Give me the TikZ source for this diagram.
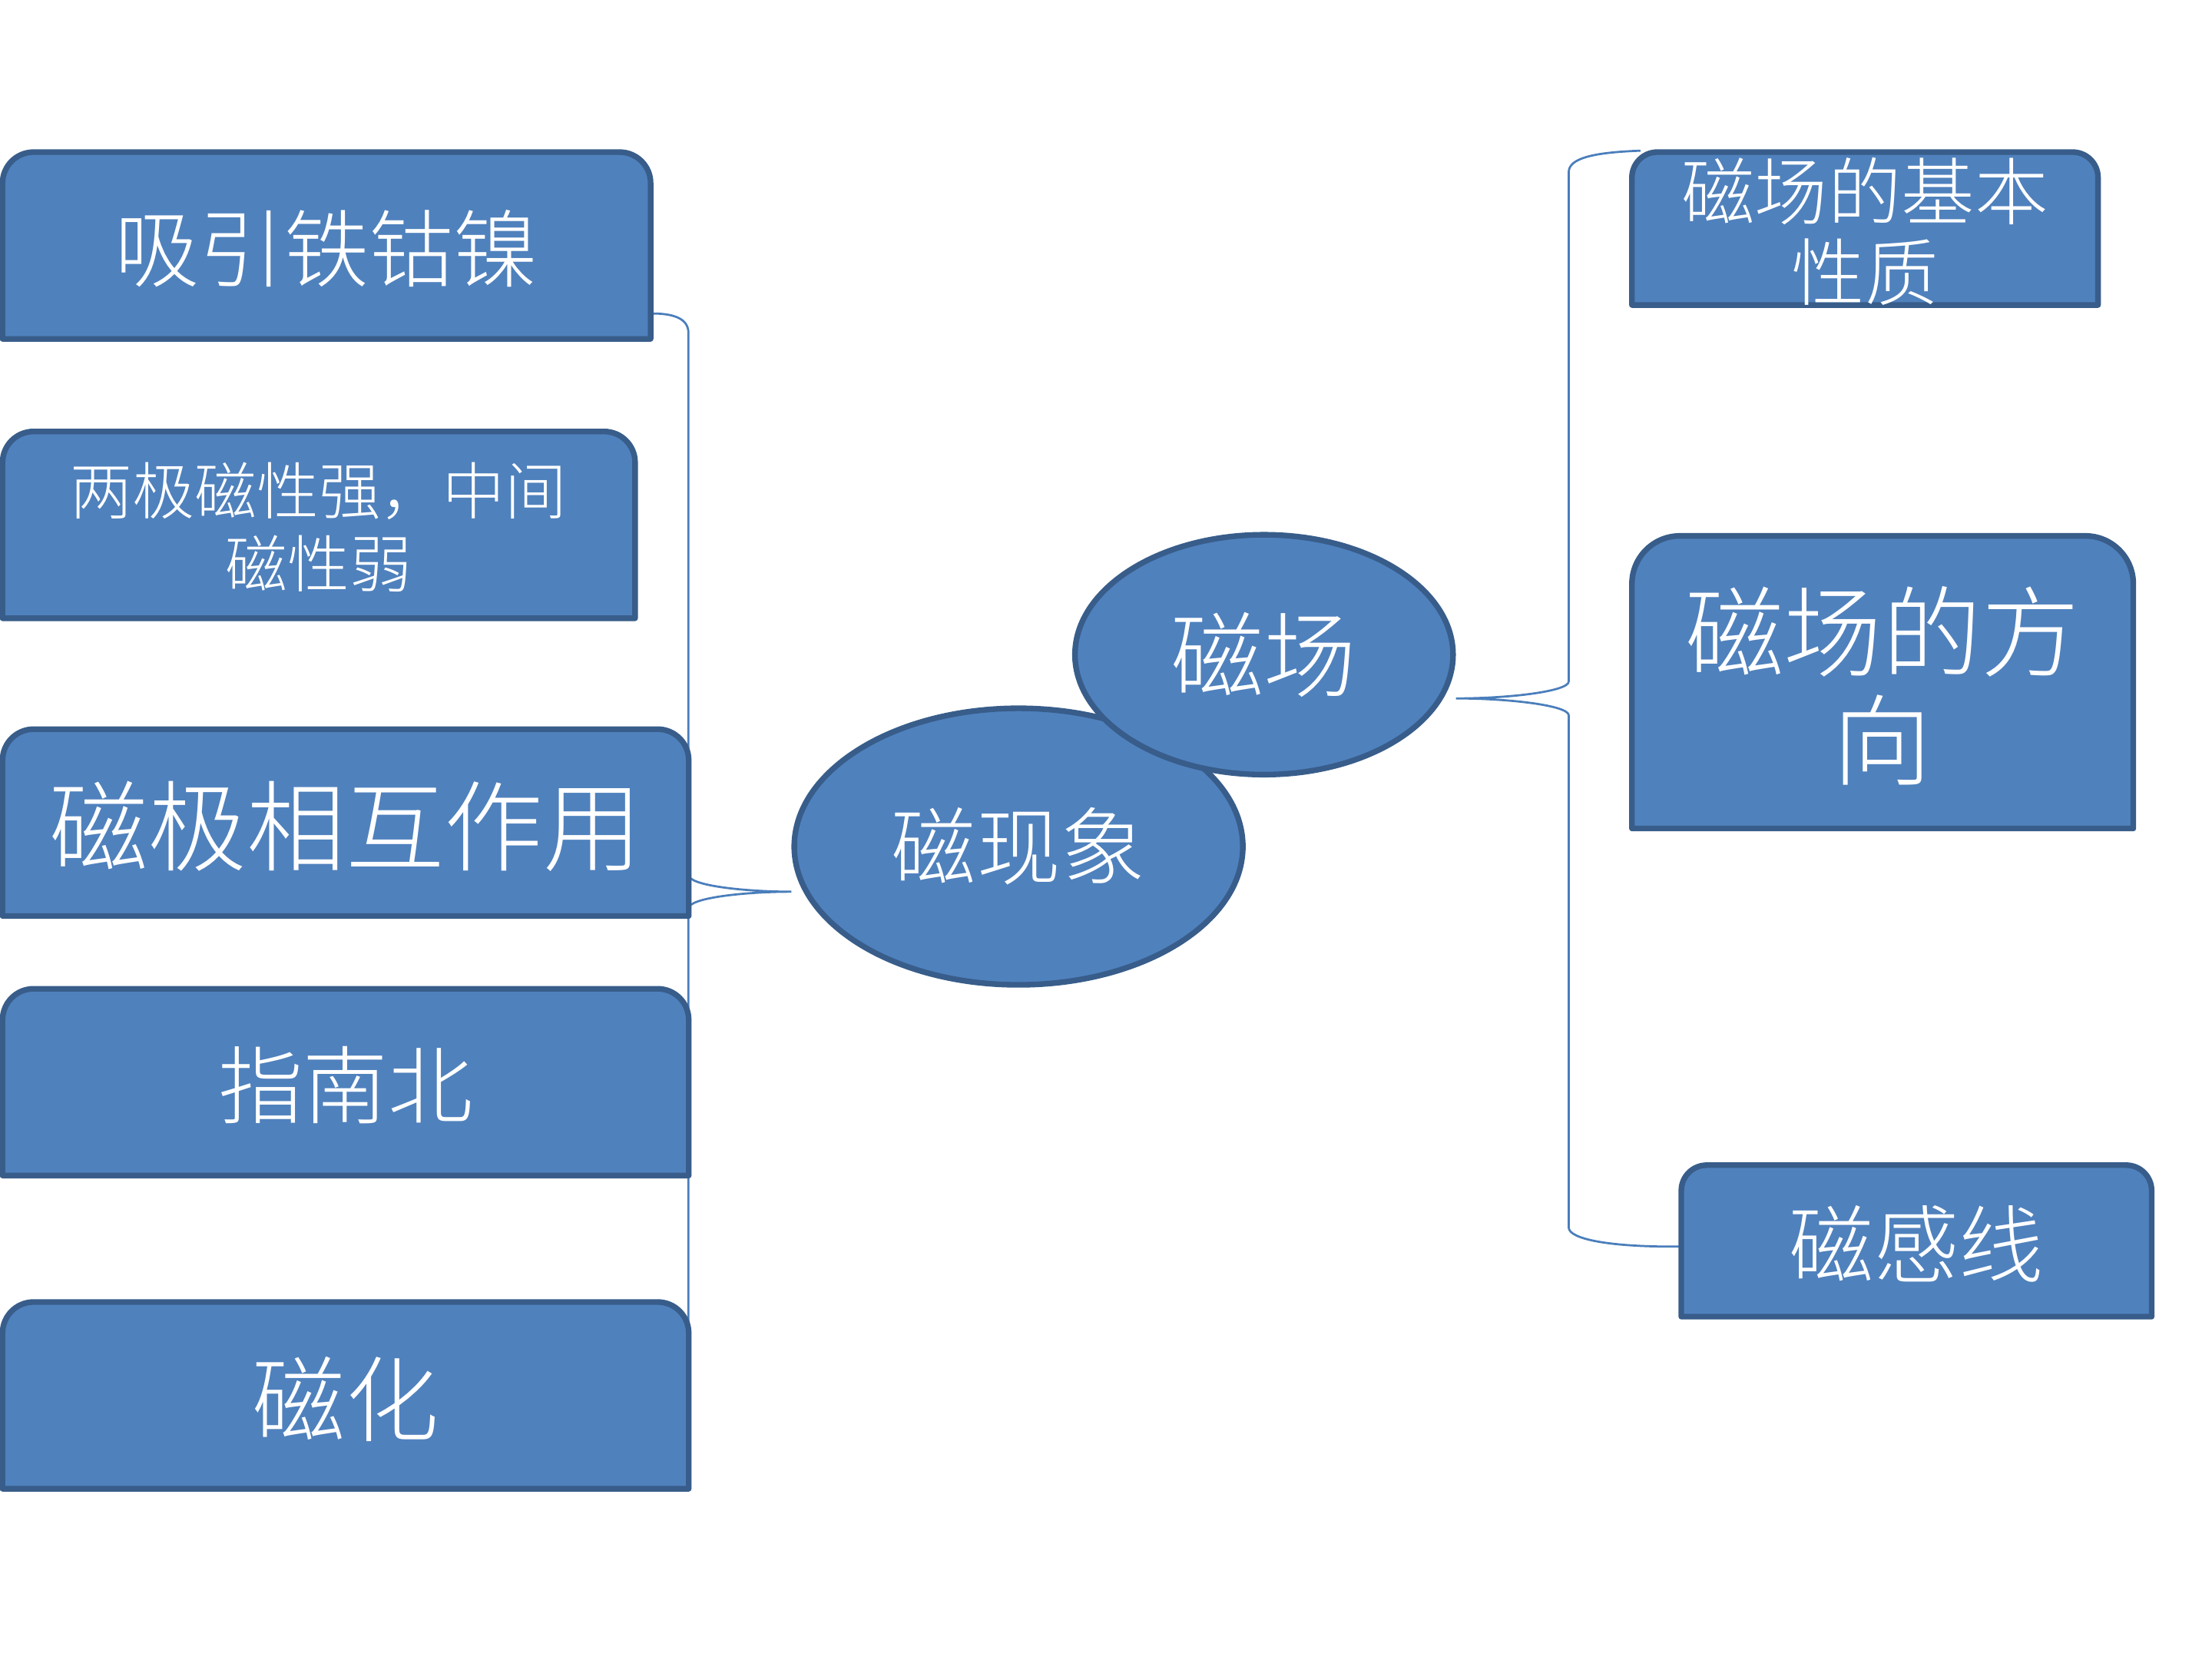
\documentclass[tikz,border=0pt]{standalone}
\usepackage{fontspec}
\newfontfamily\cjk{Noto Sans CJK SC Light}
\usetikzlibrary{shapes.geometric}
\definecolor{boxfill}{HTML}{4F81BD}
\definecolor{boxedge}{HTML}{385D8A}
\definecolor{connc}{HTML}{4A7EBB}
\pgfdeclarelayer{bg}
\pgfdeclarelayer{mid}
\pgfsetlayers{bg,mid,main}
\newcommand\drawtab[2]{\filldraw[tabshape] (#1.south west) -- ([yshift=-#2]#1.north west) arc[start angle=180,end angle=90,radius=#2] -- ([xshift=-#2]#1.north east) arc[start angle=90,end angle=0,radius=#2] -- (#1.south east) -- cycle;}
\newcommand\fs[2]{\cjk\fontsize{#1}{#2}\selectfont}
\tikzset{
  tab/.style={inner sep=0pt, text=white, align=center},
  tabshape/.style={fill=boxfill, draw=boxedge, line width=4pt, line join=round},
  oval/.style={ellipse, inner sep=0pt, fill=boxfill, draw=boxedge, line width=4pt, text=white},
  conn/.style={draw=connc, line width=1.5pt},
}
\begin{document}
\begin{tikzpicture}[x=1pt,y=-1pt]
\useasboundingbox (0,0) rectangle (1568,1176);
% left boxes
\node[tab, minimum width=459pt, minimum height=132pt, text depth=-4pt, font=\fs{60}{60}] (b1) at (231.5,174) {吸引铁钴镍};
\node[tab, minimum width=448pt, minimum height=132pt, text depth=-5pt, font=\fs{44}{52}] (b2) at (226,372) {两极磁性强，中间\\磁性弱};
\node[tab, minimum width=486pt, minimum height=132pt, text depth=-2pt, font=\fs{70}{70}] (b3) at (245,583) {磁极相互作用};
\node[tab, minimum width=486pt, minimum height=132pt, text depth=-6pt, font=\fs{60}{60}] (b4) at (245,767) {指南北};
\node[tab, minimum width=486pt, minimum height=132pt, text depth=-4pt, font=\fs{66}{66}] (b5) at (245,989) {磁化};
% right boxes
\node[tab, minimum width=330pt, minimum height=108pt, text depth=-4pt, font=\fs{52}{57}] (r1) at (1322,162) {磁场的基本\\性质};
\node[tab, minimum width=355pt, minimum height=207pt, text depth=-11pt, font=\fs{70}{77}] (r2) at (1334.5,483.5) {磁场的方\\向};
\node[tab, minimum width=333pt, minimum height=107pt, text depth=-4pt, font=\fs{60}{60}] (r3) at (1358.5,879.5) {磁感线};
% ellipses
\node[oval, minimum width=318pt, minimum height=196pt, font=\fs{60}{60}] (xianxiang) at (722,600) {磁现象};
\node[oval, minimum width=268pt, minimum height=170pt, font=\fs{66}{66}] (cichang) at (896,464) {磁场};
\begin{pgfonlayer}{mid}
\drawtab{b1}{22pt}
\drawtab{b2}{22pt}
\drawtab{b3}{22pt}
\drawtab{b4}{22pt}
\drawtab{b5}{22pt}
\drawtab{r1}{18pt}
\drawtab{r2}{34pt}
\drawtab{r3}{18pt}
\end{pgfonlayer}
\begin{pgfonlayer}{bg}
\coordinate (ltip) at ([yshift=-32pt]xianxiang.west);
\coordinate (rtip) at ([yshift=-31pt]cichang.east);
\draw[conn] ([yshift=18pt]b1.south east)
  .. controls (478,222) and (488,226) .. (488,236)
  -- (488,620)
  .. controls (488,628) and (530,632) .. (ltip)
  .. controls (530,632) and (488,636) .. (488,644)
  -- (488,1028)
  .. controls (488,1038) and (478,1042) .. ([yshift=13pt]b5.south east);
\draw[conn] ([xshift=6pt,yshift=1pt]r1.north west)
  .. controls (1130,108) and (1112,112) .. (1112,122)
  -- (1112,483)
  .. controls (1112,490) and (1070,495) .. (rtip)
  .. controls (1070,495) and (1112,500) .. (1112,507)
  -- (1112,870)
  .. controls (1112,878) and (1140,884) .. ([yshift=-4pt]r3.west);
\end{pgfonlayer}
\end{tikzpicture}
\end{document}
